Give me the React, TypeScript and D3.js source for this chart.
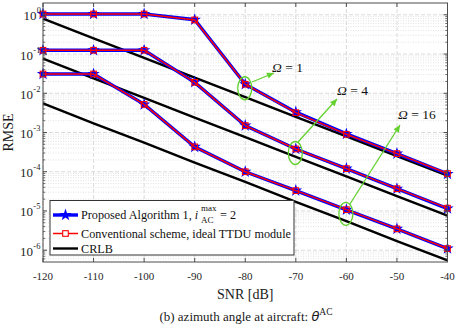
import React from "react";
import * as d3 from "d3";

// SNR grid [dB]
const snr = [-120, -110, -100, -90, -80, -70, -60, -50, -40];

// Proposed algorithm RMSE
const propOmega1 = [1.05, 1.05, 1.05, 0.75, 0.017, 0.0033, 0.00092, 0.00029, 0.000088];
const propOmega4 = [0.125, 0.125, 0.125, 0.019, 0.0015, 0.00038, 0.00012, 0.000037, 0.0000115];
const propOmega16 = [0.031, 0.031, 0.0052, 0.00043, 0.0001, 0.000033, 0.0000107, 0.0000035, 0.0000011];

// Conventional scheme (ideal TTDU) RMSE
const convOmega1 = [1.05, 1.05, 1.05, 0.74, 0.017, 0.0032, 0.0009, 0.00029, 0.00009];
const convOmega4 = [0.125, 0.125, 0.125, 0.019, 0.0015, 0.00038, 0.00012, 0.000037, 0.0000118];
const convOmega16 = [0.031, 0.031, 0.0052, 0.00043, 0.0001, 0.000033, 0.0000108, 0.0000035, 0.0000011];

// CRLB
const crlbOmega1 = [0.8, 0.25, 0.08, 0.025, 0.008, 0.0025, 0.0008, 0.00025, 0.00008];
const crlbOmega4 = [0.076, 0.024, 0.0076, 0.0024, 0.00076, 0.00024, 0.000076, 0.000024, 0.0000076];
const crlbOmega16 = [0.0055, 0.0017, 0.00055, 0.00017, 0.000055, 0.000017, 0.0000055, 0.0000017, 0.00000055];

const xTicks = [-120, -110, -100, -90, -80, -70, -60, -50, -40];
const yExps = [0, -1, -2, -3, -4, -5, -6];

// annotation: omega label, snr at which the ellipse sits, which series
const notes = [
  { label: "1", at: -80, series: propOmega1, text: [272, 72], tip: [274, 73], from: [252, 82] },
  { label: "4", at: -70, series: propOmega4, text: [337, 95], tip: [337, 99], from: [298, 142] },
  { label: "16", at: -60, series: propOmega16, text: [398, 118.5], tip: [400, 125], from: [350, 204] },
];

const W = 457;
const H = 326;
const serif = "'Liberation Serif', 'Times New Roman', serif";
const green = "#62d12e";

export default function App() {
  const x = d3.scaleLinear().domain([-120, -40]).range([43, 447.5]);
  const y = d3.scaleLog().domain([5e-7, 2]).range([262, 3]);
  const [x0, x1] = x.range();
  const [yb, yt] = y.range();

  const line = d3
    .line<number>()
    .x((_, i) => x(snr[i]))
    .y((d) => y(d));

  const star = d3.symbol().type(d3.symbolStar).size(48)()!;

  // minor log ticks
  const minor: number[] = [];
  for (let e = -7; e <= 0; e++) {
    for (let m = 2; m <= 9; m++) {
      const v = m * Math.pow(10, e);
      if (v > 5e-7 && v < 2) minor.push(v);
    }
  }

  const props = [propOmega1, propOmega4, propOmega16];
  const convs = [convOmega1, convOmega4, convOmega16];
  const crlbs = [crlbOmega1, crlbOmega4, crlbOmega16];

  const arrowHead = (from: number[], tip: number[]) => {
    const a = Math.atan2(tip[1] - from[1], tip[0] - from[0]);
    const L = 7, w = 3.2;
    const bx = tip[0] - L * Math.cos(a), by = tip[1] - L * Math.sin(a);
    return `M${tip[0]},${tip[1]}L${bx + w * Math.sin(a)},${by - w * Math.cos(a)}L${bx - w * Math.sin(a)},${by + w * Math.cos(a)}Z`;
  };

  return (
    <>
      <style>{`body{margin:0}`}</style>
      <svg width={W} height={H} style={{ display: "block", background: "#fff" }} fontFamily={serif}>
        {/* grid */}
        <g>
          {minor.map((v, i) => (
            <line key={"mg" + i} x1={x0} x2={x1} y1={y(v)} y2={y(v)} stroke="#dadada" strokeWidth={0.8} strokeDasharray="1,1.5" />
          ))}
          {yExps.map((e) => (
            <line key={"yg" + e} x1={x0} x2={x1} y1={y(Math.pow(10, e))} y2={y(Math.pow(10, e))} stroke="#d6d6d6" strokeWidth={0.9} strokeDasharray="4,2" />
          ))}
          {xTicks.map((t) => (
            <line key={"xg" + t} x1={x(t)} x2={x(t)} y1={yt} y2={yb} stroke="#d6d6d6" strokeWidth={0.9} strokeDasharray="4,2" />
          ))}
        </g>

        {/* CRLB lines */}
        {crlbs.map((s, i) => (
          <path key={"c" + i} d={line(s)!} fill="none" stroke="#000" strokeWidth={2.4} />
        ))}

        {/* proposed (blue, stars) and conventional (red, squares) */}
        {props.map((s, i) => (
          <g key={"p" + i}>
            <path d={line(s)!} fill="none" stroke="#0000ff" strokeWidth={3.4} />
            {s.map((v, j) => (
              <path key={j} d={star} transform={`translate(${x(snr[j])},${y(v)})`} fill="#0000ff" />
            ))}
          </g>
        ))}
        {convs.map((s, i) => (
          <g key={"r" + i}>
            <path d={line(s)!} fill="none" stroke="#ff0000" strokeWidth={1.5} />
            {s.map((v, j) => (
              <rect key={j} x={x(snr[j]) - 2.8} y={y(v) - 2.8} width={5.6} height={5.6} fill="none" stroke="#ff0000" strokeWidth={1.1} />
            ))}
          </g>
        ))}

        {/* annotations */}
        {notes.map((n) => {
          const cy = y(n.series[snr.indexOf(n.at)]) + 4;
          return (
            <g key={n.label}>
              <ellipse cx={x(n.at) - 0.5} cy={cy} rx={7} ry={11.5} fill="none" stroke={green} strokeWidth={1.3} />
              <line x1={n.from[0]} y1={n.from[1]} x2={n.tip[0]} y2={n.tip[1]} stroke={green} strokeWidth={1.3} />
              <path d={arrowHead(n.from, n.tip)} fill={green} />
              <text x={n.text[0]} y={n.text[1]} fontSize={13.5} fill="#111">
                <tspan fontStyle="italic">Ω</tspan> = {n.label}
              </text>
            </g>
          );
        })}

        {/* frame + ticks */}
        <rect x={x0} y={yt} width={x1 - x0} height={yb - yt} fill="none" stroke="#4d4d4d" strokeWidth={1} />
        {xTicks.map((t) => (
          <g key={"xt" + t}>
            <line x1={x(t)} x2={x(t)} y1={yb} y2={yb - 4} stroke="#4d4d4d" />
            <line x1={x(t)} x2={x(t)} y1={yt} y2={yt + 4} stroke="#4d4d4d" />
            <text x={x(t)} y={280} textAnchor="middle" fontSize={11} fill="#262626">
              {t}
            </text>
          </g>
        ))}
        {yExps.map((e) => {
          const yy = y(Math.pow(10, e));
          return (
            <g key={"yt" + e}>
              <line x1={x0} x2={x0 + 4} y1={yy} y2={yy} stroke="#4d4d4d" />
              <line x1={x1} x2={x1 - 4} y1={yy} y2={yy} stroke="#4d4d4d" />
              <text x={e < 0 ? 33 : 36.5} y={yy + 5.5} textAnchor="end" fontSize={13} fill="#262626">
                10
              </text>
              <text x={e < 0 ? 33.3 : 36.8} y={yy - 1.5} fontSize={8.5} fill="#262626">
                {e}
              </text>
            </g>
          );
        })}
        {minor.map((v, i) => (
          <g key={"mt" + i}>
            <line x1={x0} x2={x0 + 2.2} y1={y(v)} y2={y(v)} stroke="#4d4d4d" strokeWidth={0.8} />
            <line x1={x1} x2={x1 - 2.2} y1={y(v)} y2={y(v)} stroke="#4d4d4d" strokeWidth={0.8} />
          </g>
        ))}

        {/* axis titles */}
        <text x={(x0 + x1) / 2} y={299} textAnchor="middle" fontSize={14} fill="#1a1a1a">
          SNR [dB]
        </text>
        <text transform={`translate(13,${(yt + yb) / 2}) rotate(-90)`} textAnchor="middle" fontSize={14} fill="#1a1a1a">
          RMSE
        </text>
        <text x={246} y={321} textAnchor="middle" fontSize={13} fill="#1a1a1a">
          (b) azimuth angle at aircraft: <tspan fontStyle="italic" fontFamily="'DejaVu Sans', sans-serif">θ</tspan>
          <tspan dy={-6} fontSize={9.5}>AC</tspan>
        </text>

        {/* legend */}
        <g>
          <rect x={50} y={200.5} width={244} height={54.5} fill="#fff" stroke="#333" strokeWidth={1} />
          <line x1={53} x2={78} y1={215} y2={215} stroke="#0000ff" strokeWidth={3.4} />
          <path d={star} transform="translate(65.5,215)" fill="#0000ff" />
          <line x1={53} x2={78} y1={233.5} y2={233.5} stroke="#ff0000" strokeWidth={1.5} />
          <rect x={62.7} y={230.7} width={5.6} height={5.6} fill="#fff" stroke="#ff0000" strokeWidth={1.1} />
          <line x1={53} x2={78} y1={248.5} y2={248.5} stroke="#000" strokeWidth={2.4} />
          <text x={81} y={219} fontSize={12.2} fill="#111">
            Proposed Algorithm 1, <tspan fontStyle="italic">i</tspan>
          </text>
          <text x={201} y={211} fontSize={9} fill="#111">max</text>
          <text x={201} y={223} fontSize={9} fill="#111">AC</text>
          <text x={220} y={219} fontSize={12.2} fill="#111">= 2</text>
          <text x={81} y={237.5} fontSize={12.2} fill="#111">
            Conventional scheme, ideal TTDU module
          </text>
          <text x={81} y={252.5} fontSize={12.2} fill="#111">
            CRLB
          </text>
        </g>
      </svg>
    </>
  );
}
